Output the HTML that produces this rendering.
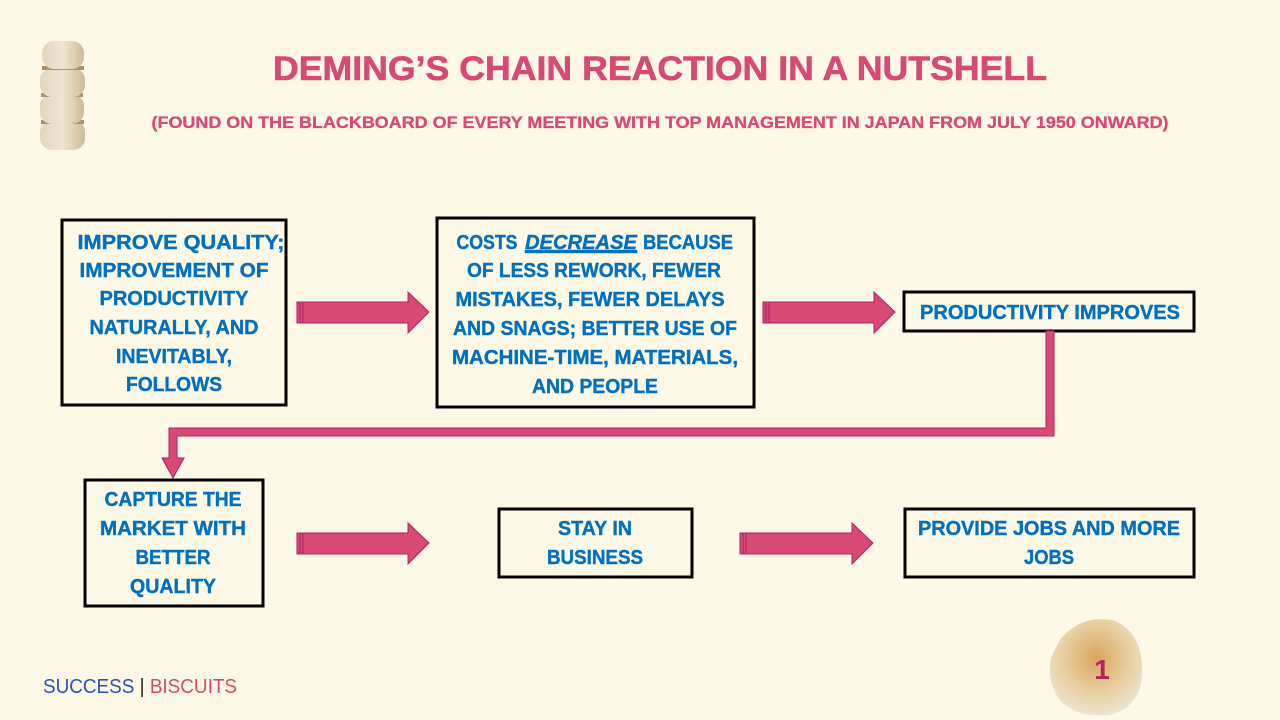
<!DOCTYPE html>
<html><head><meta charset="utf-8"><style>
html,body{margin:0;padding:0;background:#FEF8E6;}
svg{display:block}
.b{font-family:"Liberation Sans",sans-serif;font-weight:bold;font-size:20px;fill:#0070C0;stroke:#0070C0;stroke-width:0.4}
</style></head><body>
<svg width="1280" height="720" viewBox="0 0 1280 720" xmlns="http://www.w3.org/2000/svg">
<rect width="1280" height="720" fill="#FEF8E6"/>
<defs>
<radialGradient id="bg1" cx="50%" cy="40%" r="60%"><stop offset="0" stop-color="#D9A55E"/><stop offset="0.6" stop-color="#E8CFA0"/><stop offset="1" stop-color="#EDE3CF"/></radialGradient>
<linearGradient id="st" x1="0" y1="0" x2="1" y2="0"><stop offset="0" stop-color="#E2D6BE"/><stop offset="0.5" stop-color="#EFE6D2"/><stop offset="1" stop-color="#CDBB98"/></linearGradient>
</defs>
<g>
<rect x="40" y="120" width="45" height="30" rx="12" fill="url(#st)"/>
<rect x="41" y="120" width="43" height="4" fill="#B88F5E"/>
<rect x="40" y="94" width="44" height="30" rx="12" fill="url(#st)"/>
<rect x="41" y="93" width="42" height="4" fill="#B88F5E"/>
<rect x="40" y="68" width="45" height="29" rx="12" fill="url(#st)"/>
<rect x="42" y="66" width="42" height="4" fill="#B88F5E"/>
<rect x="42" y="41" width="42" height="28" rx="12" fill="url(#st)"/>
</g>
<text x="660" y="80" text-anchor="middle" font-family="Liberation Sans,sans-serif" font-weight="bold" font-size="34" fill="#D64A74" stroke="#D64A74" stroke-width="0.6" textLength="774" lengthAdjust="spacingAndGlyphs">DEMING’S CHAIN REACTION IN A NUTSHELL</text>
<text x="660" y="128" text-anchor="middle" font-family="Liberation Sans,sans-serif" font-weight="bold" font-size="17" fill="#D64A74" stroke="#D64A74" stroke-width="0.3" textLength="1017" lengthAdjust="spacingAndGlyphs">(FOUND ON THE BLACKBOARD OF EVERY MEETING WITH TOP MANAGEMENT IN JAPAN FROM JULY 1950 ONWARD)</text>

<g fill="none" stroke="#000" stroke-width="3">
<rect x="62" y="220" width="224" height="185"/>
<rect x="437" y="218" width="317" height="189"/>
<rect x="904" y="292" width="290" height="39"/>
<rect x="85" y="480" width="178" height="126"/>
<rect x="499" y="509" width="193" height="68"/>
<rect x="905" y="509" width="289" height="68"/>
</g>

<g fill="#D64A74" stroke="#B0206A" stroke-width="1">
<polygon points="297,302 408,302 408,292 429,312 408,333 408,323 297,323"/>
<polygon points="763,302 874,302 874,292 895,312 874,333 874,323 763,323"/>
<polygon points="297,533 408,533 408,523 429,543 408,564 408,554 297,554"/>
<polygon points="740,533 852,533 852,523 873,543 852,564 852,554 740,554"/>
<polygon points="1046,331 1054,331 1054,436 177,436 177,458 184,458 173,478 162,458 169,458 169,428 1046,428"/>
</g>
<g stroke="#B0206A" stroke-width="1">
<line x1="300" y1="302" x2="300" y2="323"/><line x1="303" y1="302" x2="303" y2="323"/>
<line x1="766" y1="302" x2="766" y2="323"/><line x1="769" y1="302" x2="769" y2="323"/>
<line x1="300" y1="533" x2="300" y2="554"/><line x1="303" y1="533" x2="303" y2="554"/>
<line x1="743" y1="533" x2="743" y2="554"/><line x1="746" y1="533" x2="746" y2="554"/>
</g>

<g class="b" text-anchor="middle">
<text x="181" y="249" textLength="207" lengthAdjust="spacingAndGlyphs">IMPROVE QUALITY;</text>
<text x="174" y="277" textLength="189" lengthAdjust="spacingAndGlyphs">IMPROVEMENT OF</text>
<text x="174" y="305" textLength="149" lengthAdjust="spacingAndGlyphs">PRODUCTIVITY</text>
<text x="174" y="334" textLength="169" lengthAdjust="spacingAndGlyphs">NATURALLY, AND</text>
<text x="174" y="363" textLength="116" lengthAdjust="spacingAndGlyphs">INEVITABLY,</text>
<text x="174" y="391" textLength="96" lengthAdjust="spacingAndGlyphs">FOLLOWS</text>

<text x="487" y="249" textLength="61" lengthAdjust="spacingAndGlyphs">COSTS</text>
<text x="581" y="249" font-style="italic" text-decoration="underline" textLength="112" lengthAdjust="spacingAndGlyphs">DECREASE</text>
<text x="688" y="249" textLength="90" lengthAdjust="spacingAndGlyphs">BECAUSE</text>
<rect x="525" y="251" width="112" height="2" fill="#0070C0"/>
<text x="594" y="277" textLength="254" lengthAdjust="spacingAndGlyphs">OF LESS REWORK, FEWER</text>
<text x="590" y="306" textLength="269" lengthAdjust="spacingAndGlyphs">MISTAKES, FEWER DELAYS</text>
<text x="595" y="335" textLength="284" lengthAdjust="spacingAndGlyphs">AND SNAGS; BETTER USE OF</text>
<text x="595" y="364" textLength="286" lengthAdjust="spacingAndGlyphs">MACHINE-TIME, MATERIALS,</text>
<text x="595" y="393" textLength="126" lengthAdjust="spacingAndGlyphs">AND PEOPLE</text>

<text x="1050" y="319" textLength="260" lengthAdjust="spacingAndGlyphs">PRODUCTIVITY IMPROVES</text>

<text x="173" y="506" textLength="137" lengthAdjust="spacingAndGlyphs">CAPTURE THE</text>
<text x="173" y="535" textLength="146" lengthAdjust="spacingAndGlyphs">MARKET WITH</text>
<text x="173" y="564" textLength="75" lengthAdjust="spacingAndGlyphs">BETTER</text>
<text x="173" y="593" textLength="86" lengthAdjust="spacingAndGlyphs">QUALITY</text>

<text x="595" y="535" textLength="74" lengthAdjust="spacingAndGlyphs">STAY IN</text>
<text x="595" y="564" textLength="96" lengthAdjust="spacingAndGlyphs">BUSINESS</text>

<text x="1049" y="535" textLength="262" lengthAdjust="spacingAndGlyphs">PROVIDE JOBS AND MORE</text>
<text x="1049" y="564" textLength="50" lengthAdjust="spacingAndGlyphs">JOBS</text>
</g>

<path d="M1060,640 Q1080,615 1112,620 Q1140,630 1142,665 Q1145,705 1110,715 Q1075,718 1060,700 Q1045,680 1052,655 Z" fill="url(#bg1)"/>
<text x="1102" y="679" text-anchor="middle" font-family="Liberation Sans,sans-serif" font-weight="bold" font-size="28" fill="#B5245E">1</text>

<text x="43" y="693" font-family="Liberation Sans,sans-serif" font-size="20" textLength="194" lengthAdjust="spacingAndGlyphs"><tspan fill="#2A4FC4">SUCCESS </tspan><tspan fill="#222">| </tspan><tspan fill="#D64A74">BISCUITS</tspan></text>
</svg>
</body></html>
